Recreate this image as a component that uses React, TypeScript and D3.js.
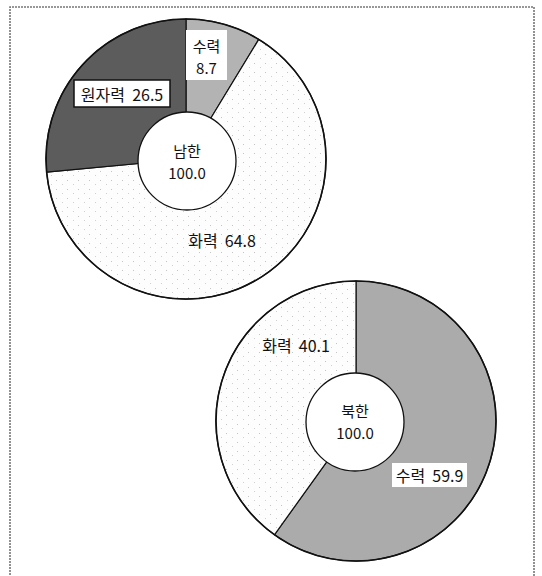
import React from "react";
import * as d3 from "d3";

// ---- data ----
const southLabels = ["수력", "화력", "원자력"];
const southValues = [8.7, 64.8, 26.5];
const northLabels = ["수력", "화력"];
const northValues = [59.9, 40.1];
const centerNames = ["남한", "북한"];
const centerTotals = ["100.0", "100.0"];

const W = 542;
const H = 576;
const R = 140;
const RI = 49;

const FONT = "'Liberation Sans Narrow', 'Noto Sans CJK KR', sans-serif";

type LabelLayout = {
  dx: number;
  dy: number;
  box?: { w: number; h: number; border: boolean };
  twoLine?: boolean;
};

const fills: Record<string, string> = {
  s수력: "#b3b3b3",
  s화력: "url(#dots)",
  s원자력: "#5c5c5c",
  n수력: "#ababab",
  n화력: "url(#dots)",
};

const southLayout: LabelLayout[] = [
  { dx: 20.5, dy: -104, box: { w: 41, h: 50, border: false }, twoLine: true },
  { dx: 36, dy: 81 },
  { dx: -64, dy: -65.5, box: { w: 96, h: 27, border: true } },
];
const northLayout: LabelLayout[] = [
  { dx: 73.5, dy: 54, box: { w: 75, h: 24, border: false } },
  { dx: -60, dy: -76 },
];

function Donut({
  cx,
  cy,
  labels,
  values,
  prefix,
  layout,
  name,
  total,
  innerOffset,
  nameDy,
  totalDy,
}: {
  cx: number;
  cy: number;
  labels: string[];
  values: number[];
  prefix: string;
  layout: LabelLayout[];
  name: string;
  total: string;
  innerOffset: [number, number];
  nameDy: number;
  totalDy: number;
}) {
  const data = labels.map((l, i) => ({ label: l, value: values[i] }));
  const pie = d3
    .pie<{ label: string; value: number }>()
    .sort(null)
    .value((d) => d.value);
  const arcs = pie(data);
  const arc = d3
    .arc<d3.PieArcDatum<{ label: string; value: number }>>()
    .innerRadius(0)
    .outerRadius(R);
  return (
    <g transform={`translate(${cx},${cy})`}>
      {arcs.map((a, i) => (
        <path
          key={i}
          d={arc(a) || ""}
          fill={fills[prefix + a.data.label]}
          stroke="#111"
          strokeWidth={1.2}
        />
      ))}
      <circle cx={0} cy={0} r={R} fill="none" stroke="#111" strokeWidth={1.6} />
      <circle
        cx={innerOffset[0]}
        cy={innerOffset[1]}
        r={RI}
        fill="#fff"
        stroke="#111"
        strokeWidth={1.3}
      />
      <text
        x={innerOffset[0]}
        y={nameDy}
        textAnchor="middle"
        dominantBaseline="central"
        fontSize={15}
        fontFamily={FONT}
        fill="#111"
      >
        {name}
      </text>
      <text
        x={innerOffset[0]}
        y={totalDy}
        textAnchor="middle"
        dominantBaseline="central"
        fontSize={15}
        fontFamily={FONT}
        fill="#111"
      >
        {total}
      </text>
      {arcs.map((a, i) => {
        const L = layout[i];
        return (
          <g key={"l" + i} transform={`translate(${L.dx},${L.dy})`}>
            {L.box && (
              <rect
                x={-L.box.w / 2}
                y={-L.box.h / 2}
                width={L.box.w}
                height={L.box.h}
                fill="#fff"
                stroke={L.box.border ? "#111" : "none"}
                strokeWidth={1.5}
              />
            )}
            {L.twoLine ? (
              <>
                <text
                  x={0}
                  y={-10}
                  textAnchor="middle"
                  dominantBaseline="central"
                  fontSize={15}
                  fontFamily={FONT}
                  fill="#111"
                >
                  {a.data.label}
                </text>
                <text
                  x={0}
                  y={12}
                  textAnchor="middle"
                  dominantBaseline="central"
                  fontSize={15}
                  fontFamily={FONT}
                  fill="#111"
                >
                  {a.data.value.toFixed(1)}
                </text>
              </>
            ) : (
              <text
                x={0}
                y={0}
                textAnchor="middle"
                dominantBaseline="central"
                fontSize={16}
                fontFamily={FONT}
                fill="#111"
                style={{ whiteSpace: "pre" }}
              >
                {a.data.label + "  " + a.data.value.toFixed(1)}
              </text>
            )}
          </g>
        );
      })}
    </g>
  );
}

export default function App() {
  return (
    <svg
      width={W}
      height={H}
      style={{ position: "absolute", left: 0, top: 0, background: "#fff" }}
    >
      <defs>
        <pattern id="dots" width="11" height="9" patternUnits="userSpaceOnUse">
          <rect width="11" height="9" fill="#fdfdfd" />
          <rect x="2" y="3" width="1" height="1" fill="#c4c4c4" />
          <rect x="8" y="7" width="1" height="1" fill="#d0d0d0" />
        </pattern>
      </defs>
      <path
        d={`M10,${H + 5} L10,7 L534,7 L534,${H + 5}`}
        fill="none"
        stroke="#777"
        strokeWidth={1.6}
        strokeDasharray="2 1"
      />
      <Donut
        cx={186}
        cy={159}
        labels={southLabels}
        values={southValues}
        prefix="s"
        layout={southLayout}
        name={centerNames[0]}
        total={centerTotals[0]}
        innerOffset={[1, 2]}
        nameDy={-9}
        totalDy={13}
      />
      <Donut
        cx={356}
        cy={421}
        labels={northLabels}
        values={northValues}
        prefix="n"
        layout={northLayout}
        name={centerNames[1]}
        total={centerTotals[1]}
        innerOffset={[-1, 1]}
        nameDy={-11}
        totalDy={11}
      />
    </svg>
  );
}
